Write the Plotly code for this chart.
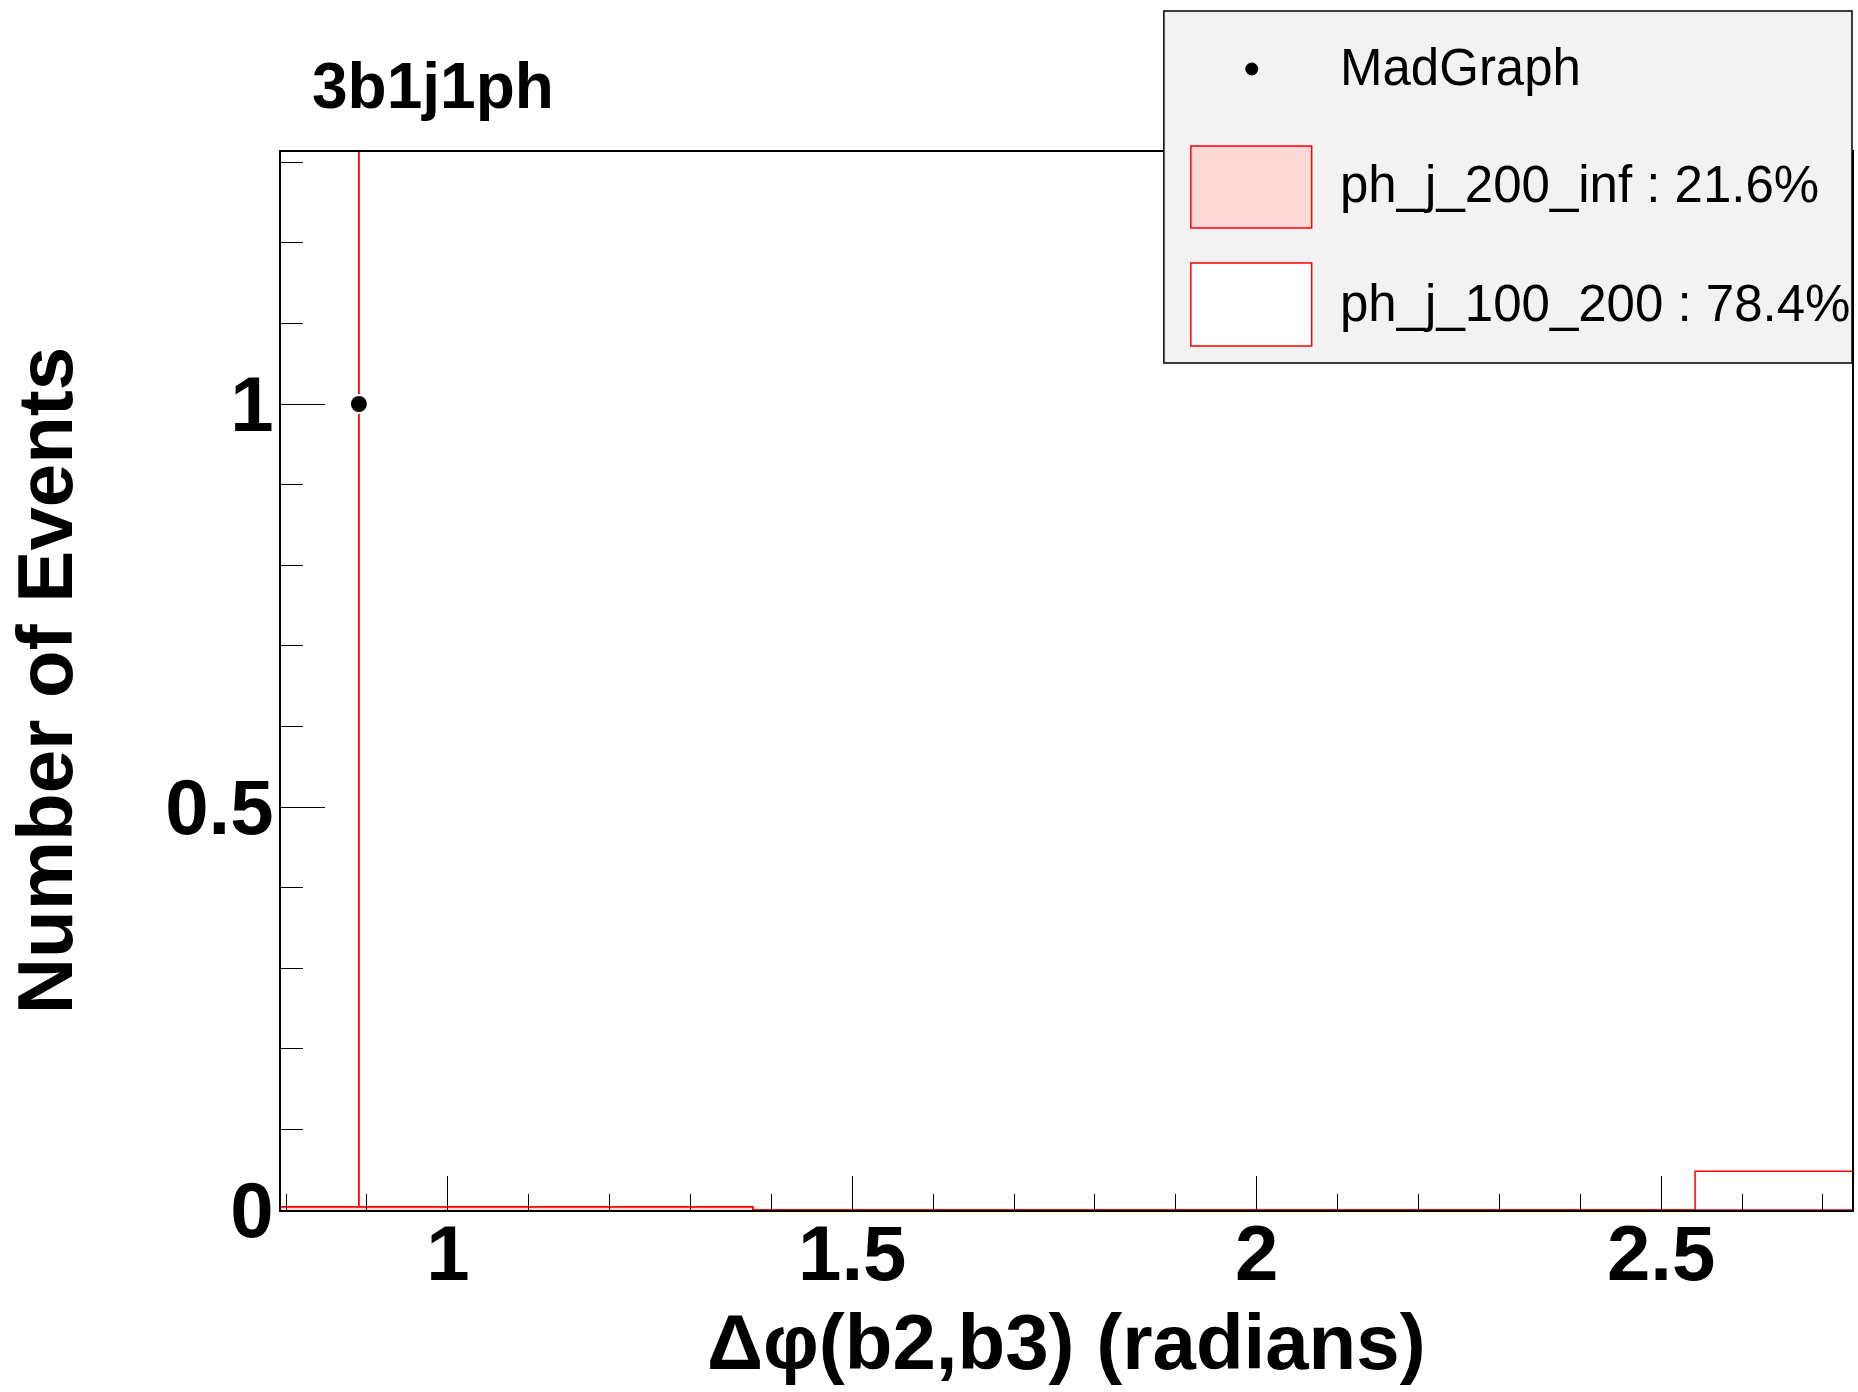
import plotly.graph_objects as go

# ---- data ----
bin_edges = [0.7937, 0.8898, 0.8902, 1.377, 2.542, 2.736]
ph_j_200_inf = [0.004, 0.004, 0.004, 0.0, 0.0]
ph_j_100_200 = [0.0, 3.0, 0.0, 0.0, 0.048]
madgraph_x = [0.89]
madgraph_y = [1.0]
legend_labels = ["MadGraph", "ph_j_200_inf : 21.6%", "ph_j_100_200 : 78.4%"]
title_text = "3b1j1ph"
x_title = "Δφ(b2,b3) (radians)"
y_title = "Number of Events"

W, H = 1858, 1392
L, R, T, B = 281, 1854, 152, 1210
FONT = "Liberation Sans, Arial, Helvetica, sans-serif"
RED = "#ff0000"
PINK = "#ffd8d8"


def px_x(px):
    return (px - L) / (R - L)


def px_y(py):
    return (B - py) / (B - T)


def steps(vals):
    return list(vals) + [vals[-1]]


bottom = ph_j_200_inf
total = [a + b for a, b in zip(ph_j_200_inf, ph_j_100_200)]

fig = go.Figure()
fig.add_trace(go.Scatter(
    x=bin_edges, y=steps(bottom), mode="lines", line_shape="hv",
    line=dict(color=RED, width=1.5), fill="tozeroy", fillcolor=PINK,
    name=legend_labels[1], showlegend=False, hoverinfo="skip"))
fig.add_trace(go.Scatter(
    x=bin_edges, y=steps(total), mode="lines", line_shape="hv",
    line=dict(color=RED, width=1.5), fill="tonexty", fillcolor="white",
    name=legend_labels[2], showlegend=False, hoverinfo="skip"))
fig.add_trace(go.Scatter(
    x=madgraph_x, y=madgraph_y, mode="markers",
    marker=dict(color="black", size=18, line=dict(color="white", width=2)),
    name=legend_labels[0], showlegend=False))

axis_common = dict(showline=True, linecolor="black", linewidth=1.5, mirror=True,
                   showgrid=False, zeroline=False, ticks="inside", tickcolor="black",
                   tickwidth=1.2,
                   tickfont=dict(family=FONT, size=78, color="black", weight="bold"))

fig.update_xaxes(range=[bin_edges[0], bin_edges[-1]], tick0=0, dtick=0.5, ticklen=34,
                 minor=dict(ticks="inside", ticklen=16, dtick=0.1, tick0=0,
                            tickcolor="black", tickwidth=1.2, showgrid=False),
                 ticklabelstandoff=-25,
                 **axis_common)
fig.update_yaxes(range=[0, 1.3127], tick0=0, dtick=0.5, ticklen=44,
                 minor=dict(ticks="inside", ticklen=22, dtick=0.1, tick0=0,
                            tickcolor="black", tickwidth=1.2, showgrid=False),
                 ticklabelstandoff=-10,
                 **axis_common)

annotations = [
    dict(text=f"<b>{title_text}</b>", x=px_x(310), y=px_y(86), xref="paper", yref="paper",
         xanchor="left", yanchor="middle", showarrow=False,
         font=dict(family=FONT, size=64, color="black")),
    dict(text=f"<b>{x_title}</b>", x=0.5, y=px_y(1342), xref="paper", yref="paper",
         xanchor="center", yanchor="middle", showarrow=False,
         font=dict(family=FONT, size=78, color="black")),
    dict(text=f"<b>{y_title}</b>", x=px_x(45), y=0.5, xref="paper", yref="paper",
         xanchor="center", yanchor="middle", showarrow=False, textangle=-90,
         font=dict(family=FONT, size=78, color="black")),
]
leg_text_y = [67, 185, 303]
for lab, yy in zip(legend_labels, leg_text_y):
    annotations.append(dict(text=lab, x=px_x(1339), y=px_y(yy), xref="paper", yref="paper",
                            xanchor="left", yanchor="middle", showarrow=False,
                            font=dict(family=FONT, size=51, color="black")))

shapes = [
    dict(type="rect", xref="paper", yref="paper", x0=px_x(1165), x1=px_x(1854),
         y0=px_y(363), y1=px_y(11), fillcolor="#f2f2f2", line=dict(color="black", width=1.5),
         layer="above"),
    dict(type="circle", xref="paper", yref="paper", x0=px_x(1253 - 6.5), x1=px_x(1253 + 6.5),
         y0=px_y(69 + 6.5), y1=px_y(69 - 6.5), fillcolor="black", line=dict(width=0),
         layer="above"),
    dict(type="rect", xref="paper", yref="paper", x0=px_x(1192), x1=px_x(1313),
         y0=px_y(228), y1=px_y(146), fillcolor=PINK, line=dict(color=RED, width=1.5),
         layer="above"),
    dict(type="rect", xref="paper", yref="paper", x0=px_x(1192), x1=px_x(1313),
         y0=px_y(346), y1=px_y(263), fillcolor="white", line=dict(color=RED, width=1.5),
         layer="above"),
]

fig.update_layout(
    width=W, height=H, autosize=False,
    margin=dict(l=L, r=W - R, t=T, b=H - B, pad=0),
    paper_bgcolor="white", plot_bgcolor="white",
    showlegend=False, annotations=annotations, shapes=shapes,
    font=dict(family=FONT, color="black"),
)

fig.write_html("out.html", config={"displayModeBar": False},
               post_script="document.body.style.margin='0';document.body.style.overflow='hidden';")
